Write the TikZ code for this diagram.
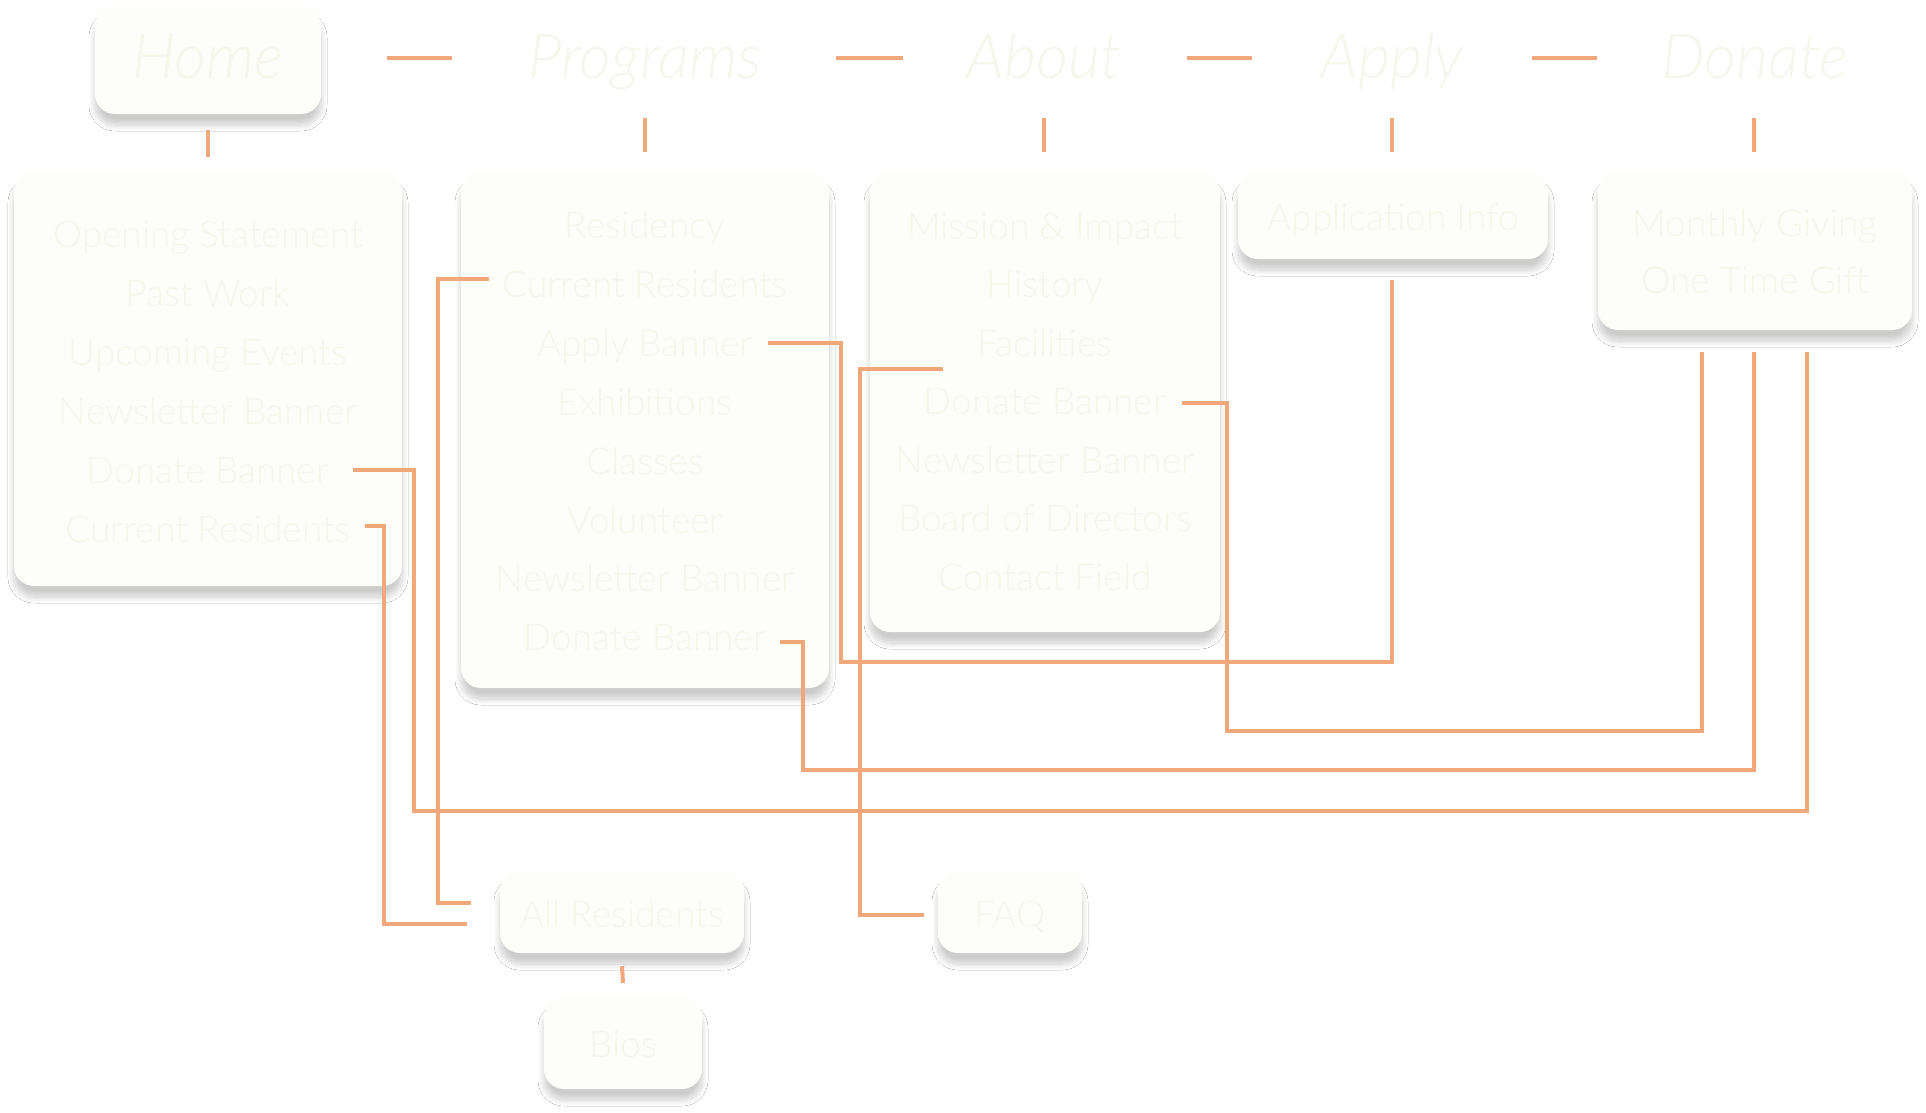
\documentclass[tikz,border=0pt]{standalone}
\usepackage{fontspec}
\setmainfont{Lato}
\newfontfamily\itemfont{Lato Light}
\newfontfamily\topfont{Lato Light Italic}
\usetikzlibrary{shadows.blur}
\definecolor{conn}{RGB}{240,168,122}
\definecolor{boxfill}{RGB}{253,253,250}
\definecolor{txt}{RGB}{246,246,235}
\begin{document}
\begin{tikzpicture}[x=1bp,y=-1bp,
 card/.style={draw=none, fill=boxfill, rounded corners=20bp, inner sep=0pt,
   blur shadow={shadow xshift=0bp, shadow yshift=-11bp, shadow blur radius=6bp, shadow opacity=20, shadow blur steps=14}},
 item/.style={font=\itemfont\fontsize{37bp}{42bp}\selectfont, text=txt, anchor=base, inner sep=0pt},
 toplabel/.style={font=\topfont\fontsize{62bp}{68bp}\selectfont, text=txt, anchor=base, inner sep=0pt},
 link/.style={draw=conn, line width=3.5bp},
 tick/.style={draw=conn, line width=4bp}]
\fill[white] (0,0) rectangle (1926,1112);

% cards
\node[card, minimum width=226bp, minimum height=108bp] (home) at (208,60) {};
\node[card, minimum width=388bp, minimum height=414bp] (hlist) at (208,379) {};
\node[card, minimum width=368bp, minimum height=516bp] (plist) at (645,430) {};
\node[card, minimum width=350bp, minimum height=460bp] (alist) at (1045,402) {};
\node[card, minimum width=310bp, minimum height=87bp] (aplist) at (1393,215.5) {};
\node[card, minimum width=314bp, minimum height=158bp] (dlist) at (1755,251) {};
\node[card, minimum width=244bp, minimum height=82bp] (allres) at (622,912) {};
\node[card, minimum width=144bp, minimum height=82bp] (faq) at (1010,912) {};
\node[card, minimum width=158bp, minimum height=92bp] (bios) at (623,1043) {};

% top labels
\node[toplabel] (tHome) at (208,78) {Home};
\node[toplabel] (tProg) at (645,78) {Programs};
\node[toplabel] (tAbout) at (1044,78) {About};
\node[toplabel] (tApply) at (1392,78) {Apply};
\node[toplabel] (tDonate) at (1755,78) {Donate};

% home list
\node[item] (h1) at (208,247) {Opening Statement};
\node[item] (h2) at (208,306) {Past Work};
\node[item] (h3) at (208,365) {Upcoming Events};
\node[item] (h4) at (208,424) {Newsletter Banner};
\node[item] (h5) at (208,483) {Donate Banner};
\node[item] (h6) at (208,542) {Current Residents};

% programs list
\node[item] (p1) at (645,238.5) {Residency};
\node[item] (p2) at (645,297.4) {Current Residents};
\node[item] (p3) at (645,356.3) {Apply Banner};
\node[item] (p4) at (645,415.2) {Exhibitions};
\node[item] (p5) at (645,474.1) {Classes};
\node[item] (p6) at (645,533) {Volunteer};
\node[item] (p7) at (645,591.9) {Newsletter Banner};
\node[item] (p8) at (645,650.8) {Donate Banner};

% about list
\node[item] (a1) at (1045,239) {Mission \& Impact};
\node[item] (a2) at (1045,297.5) {History};
\node[item] (a3) at (1045,356) {Facilities};
\node[item] (a4) at (1045,414.5) {Donate Banner};
\node[item] (a5) at (1045,473) {Newsletter Banner};
\node[item] (a6) at (1045,531.5) {Board of Directors};
\node[item] (a7) at (1045,590) {Contact Field};

% apply / donate
\node[item] (ap1) at (1393,230) {Application Info};
\node[item] (d1) at (1755,236) {Monthly Giving};
\node[item] (d2) at (1755,293) {One Time Gift};

% bottom
\node[item] (b1) at (622,927) {All Residents};
\node[item] (b2) at (1010,927) {FAQ};
\node[item] (b3) at (623,1057) {Bios};

% top dashes
\coordinate (s1a) at (387,58); \coordinate (s1b) at (452,58);
\coordinate (s2a) at (836,58); \coordinate (s2b) at (903,58);
\coordinate (s3a) at (1187,58); \coordinate (s3b) at (1252,58);
\coordinate (s4a) at (1532,58); \coordinate (s4b) at (1597,58);
\draw[tick] (s1a) -- (s1b);
\draw[tick] (s2a) -- (s2b);
\draw[tick] (s3a) -- (s3b);
\draw[tick] (s4a) -- (s4b);

% vertical ticks
\draw[tick] ([yshift=-16bp]home.south) -- ([yshift=15bp]hlist.north);
\draw[tick] (645,118) -- ([yshift=20bp]plist.north);
\draw[tick] (1044,118) -- (1044,152);
\draw[tick] (1392,118) -- (1392,152);
\draw[tick] (1754,118) -- (1754,152);
\draw[tick] ([yshift=-13bp]allres.south) -- ([yshift=14bp]bios.north);

% connectors
\coordinate (c1s) at (353,470); \coordinate (c1e) at (1807,352);
\draw[link] (c1s) -| (414,811) -| (c1e);
\coordinate (c2s) at (365,526); \coordinate (c2e) at (467,924);
\draw[link] (c2s) -| (384,924) -- (c2e);
\coordinate (c3s) at (489,279); \coordinate (c3e) at (471,903);
\draw[link] (c3s) -| (438,903) -- (c3e);
\coordinate (c4s) at (768,343); \coordinate (c4e) at (1392,280);
\draw[link] (c4s) -| (841,662) -| (c4e);
\coordinate (c5s) at (780,642); \coordinate (c5e) at (1754,352);
\draw[link] (c5s) -| (803,770) -| (c5e);
\coordinate (c6s) at (943,369); \coordinate (c6e) at (924,915);
\draw[link] (c6s) -| (860,915) -- (c6e);
\coordinate (c7s) at (1182,403); \coordinate (c7e) at (1702,352);
\draw[link] (c7s) -| (1227,731) -| (c7e);

\pgfresetboundingbox
\useasboundingbox (0,0) rectangle (1926,1112);
\end{tikzpicture}
\end{document}
